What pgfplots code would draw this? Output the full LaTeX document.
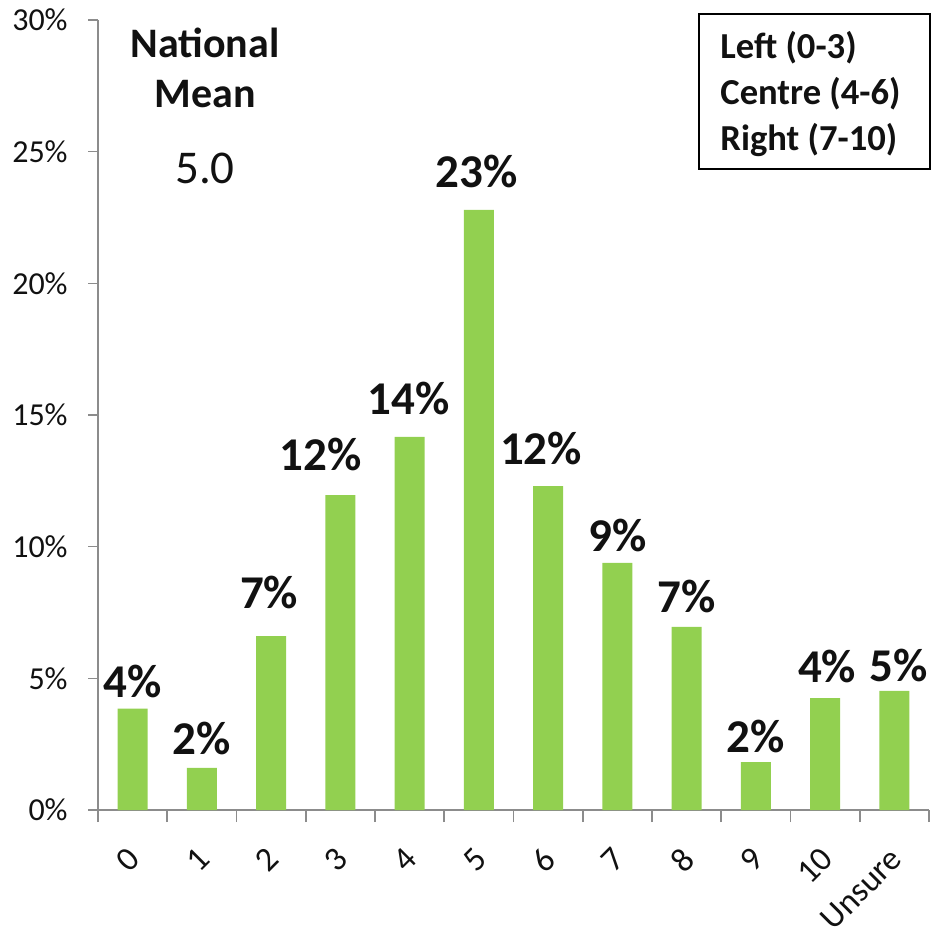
\documentclass[border=0pt]{standalone}
\usepackage{pgfplots}
\pgfplotsset{compat=1.18}
\usepackage{pgfplotstable}
\usepackage{fontspec}
\setmainfont{Carlito}
\definecolor{bargreen}{HTML}{92D050}
\definecolor{axgray}{HTML}{8C8C8C}
\definecolor{txt}{HTML}{111111}
\pgfplotstableread{
x y lbl dx dy
0 3.85 4 0 5.5
1 1.60 2 0 6.5
2 6.60 7 -1 14
3 11.96 12 -10 12.5
4 14.17 14 -0.5 11
5 22.79 23 -1 11
6 12.30 12 -3.5 11
7 9.38 9 0 5.5
8 6.95 7 0 7
9 1.82 2 0 5
10 4.25 4 1 8
11 4.52 5 2 4.5
}\datatable
\begin{document}
\begin{tikzpicture}
\useasboundingbox (-49pt,-62pt) rectangle (417pt,405pt);
\begin{axis}[
  at={(0,0)}, anchor=south west,
  scale only axis, width=415.5pt, height=395pt,
  xmin=-0.5, xmax=11.5, ymin=0, ymax=30,
  axis x line*=bottom, axis y line*=left,
  axis line style={draw=axgray, line width=0.8pt},
  ytick={0,5,...,30},
  yticklabel={\pgfmathprintnumber{\tick}\%},
  xtick={0,1,...,11},
  xticklabels={0,1,2,3,4,5,6,7,8,9,10,Unsure},
  minor xtick={-0.5,0.5,...,11.5},
  tick align=outside, major tick length=4.75pt, minor tick length=6pt,
  major x tick style={draw=none},
  tick style={draw=axgray, line width=0.8pt},
  minor x tick style={draw=axgray, line width=0.8pt},
  yticklabel style={font=\fontsize{16}{19}\selectfont, text=txt, inner sep=0pt, xshift=-10.25pt},
  xticklabel style={font=\fontsize{17}{20}\selectfont, text=txt, inner sep=0pt,
     xshift=1pt, yshift=-17pt, rotate=45, anchor=east},
  /pgf/number format/assume math mode=true,
  ybar, bar width=15pt,
  clip=false,
]
\addplot[fill=bargreen, draw=none,
  point meta=explicit,
  visualization depends on={\thisrow{dx} \as \dx},
  visualization depends on={\thisrow{dy} \as \dy},
  nodes near coords={\pgfmathprintnumber{\pgfplotspointmeta}\%},
  every node near coord/.append style={anchor=base, xshift=\dx pt, yshift=\dy pt,
    font=\bfseries\fontsize{23.5}{28}\selectfont, text=txt, inner sep=0pt},
] table[x=x, y=y, meta=lbl]{\datatable};
\end{axis}
\node[font=\bfseries\fontsize{21}{25}\selectfont, align=center, text=txt] at (53.5pt,371pt) {National\\Mean};
\node[font=\fontsize{23.5}{28}\selectfont, text=txt] at (53.5pt,321pt) {5.0};
\draw[black, line width=0.8pt] (300.5pt,320.5pt) rectangle (416pt,398pt);
\node[anchor=west, align=left, inner sep=0pt, font=\bfseries\fontsize{18.3}{23}\selectfont, text=txt] at (311pt,358pt) {Left (0-3)\\Centre (4-6)\\Right (7-10)};
\end{tikzpicture}
\end{document}
